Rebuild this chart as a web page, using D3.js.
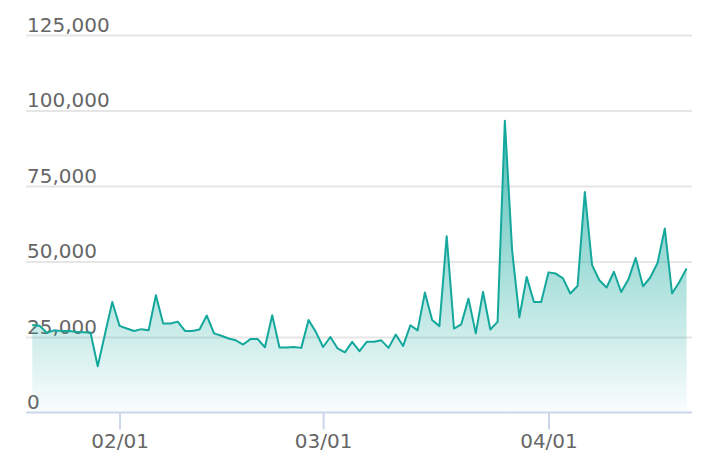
<!DOCTYPE html>
<html>
<head>
<meta charset="utf-8">
<script src="https://cdn.jsdelivr.net/npm/d3@7"></script>
<style>
  body { margin: 0; background: #fff; }
  svg { display: block; }
</style>
</head>
<body>
<svg width="720" height="474"></svg>
<script>
var svg = d3.select("svg"),
  width = +svg.attr("width"),
  height = +svg.attr("height");

// Data: one value per day, starting 2021-01-20
var firstDay = "2021-01-20";
var values = [
  29000, 28700, 26400, 27200, 27000, 27000, 26700, 26600, 26500, 15300,
  26000, 36600, 28700, 27800, 27000, 27600, 27200, 38800, 29500, 29500,
  30100, 27000, 27000, 27500, 32100, 26200, 25400, 24500, 23900, 22500,
  24300, 24300, 21600, 32200, 21500, 21500, 21700, 21400, 30600, 26700,
  21700, 25000, 21200, 19900, 23400, 20300, 23400, 23400, 23900, 21400,
  25800, 22000, 28900, 27200, 39700, 30600, 28600, 58400, 27800, 29200,
  37700, 26200, 39900, 27500, 30000, 96600, 53700, 31500, 44900, 36600,
  36600, 46400, 46000, 44400, 39400, 41900, 73000, 48800, 43800, 41400,
  46600, 39900, 44100, 51200, 41800, 44700, 49500, 60900, 39400, 43200,
  47700
];
var yTicks = [0, 25000, 50000, 75000, 100000, 125000];
var xTicks = ["2021-02-01", "2021-03-01", "2021-04-01"];

var parse = d3.timeParse("%Y-%m-%d");
var start = parse(firstDay);
var data = values.map(function(v, i) {
  return { date: d3.timeDay.offset(start, i), value: v };
});

// Scales
var plotLeft = 26, plotRight = 692;
var x = d3.scaleTime()
  .domain([start, data[data.length - 1].date])
  .range([32.3, 686.6]);
var y = d3.scaleLinear()
  .domain([0, 125000])
  .range([412.5, 35]);

var teal = "#14a89d";

// gradient for the area
var defs = svg.append("defs");
var grad = defs.append("linearGradient")
  .attr("id", "fillGrad")
  .attr("gradientUnits", "userSpaceOnUse")
  .attr("x1", 0).attr("x2", 0)
  .attr("y1", y(d3.max(values))).attr("y2", y(0));
grad.append("stop").attr("offset", "0%").attr("stop-color", teal).attr("stop-opacity", 0.75);
grad.append("stop").attr("offset", "100%").attr("stop-color", teal).attr("stop-opacity", 0.02);

// Grid + y labels
var yAxis = svg.append("g")
  .attr("transform", "translate(" + plotLeft + ",0)")
  .call(d3.axisRight(y)
    .tickValues(yTicks)
    .tickSize(plotRight - plotLeft)
    .tickFormat(d3.format(",")));
yAxis.select(".domain").remove();
yAxis.selectAll(".tick line")
  .attr("stroke", "#e6e6e6")
  .attr("stroke-width", 2)
  .filter(function(d) { return d === 0; }).remove();
yAxis.selectAll(".tick text")
  .attr("x", 1)
  .attr("y", -4)
  .attr("dy", 0)
  .attr("text-anchor", "start")
  .attr("fill", "#666")
  .style("font-family", "DejaVu Sans")
  .style("font-size", "20px");

// Area and line
var area = d3.area()
  .x(function(d) { return x(d.date); })
  .y0(y(0))
  .y1(function(d) { return y(d.value); });
var line = d3.line()
  .x(function(d) { return x(d.date); })
  .y(function(d) { return y(d.value); });

svg.append("path")
  .datum(data)
  .attr("fill", "url(#fillGrad)")
  .attr("d", area);
svg.append("path")
  .datum(data)
  .attr("fill", "none")
  .attr("stroke", teal)
  .attr("stroke-width", 2)
  .attr("stroke-linejoin", "round")
  .attr("d", line);

// X axis
var xAxis = svg.append("g")
  .attr("transform", "translate(0," + y(0) + ")")
  .call(d3.axisBottom(x)
    .tickValues(xTicks.map(parse))
    .tickSize(17)
    .tickSizeOuter(0)
    .tickPadding(4)
    .tickFormat(d3.timeFormat("%m/%d")));
xAxis.select(".domain")
  .attr("d", "M" + plotLeft + ",0H" + plotRight)
  .attr("stroke", "#ccd6eb")
  .attr("stroke-width", 2);
xAxis.selectAll(".tick line")
  .attr("stroke", "#ccd6eb")
  .attr("stroke-width", 2);
xAxis.selectAll(".tick text")
  .attr("fill", "#666")
  .style("font-family", "DejaVu Sans")
  .style("font-size", "20px");
</script>
</body>
</html>
